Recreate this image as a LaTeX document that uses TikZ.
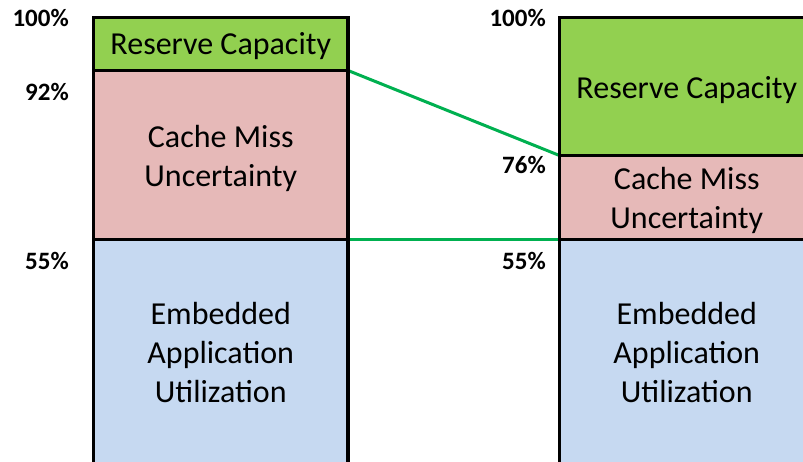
\documentclass[tikz,border=0pt]{standalone}
\usepackage{fontspec}
\setmainfont{Carlito}
\usetikzlibrary{backgrounds}
\definecolor{rescol}{HTML}{92D050}
\definecolor{misscol}{HTML}{E6B9B8}
\definecolor{appcol}{HTML}{C6D9F1}
\definecolor{linkcol}{HTML}{00B050}

\begin{document}
\begin{tikzpicture}[x=1pt,y=-1pt,
  seg/.style={draw=black, line width=3.5pt, anchor=north west, inner sep=0pt,
    outer sep=0pt, minimum width=254.5pt},
  segtext/.style={inner sep=0pt, align=center, font=\fontsize{32}{39}\selectfont},
  pct/.style={anchor=base east, inner sep=0pt, font=\fontsize{25}{28}\selectfont\bfseries},
  link/.style={draw=linkcol, line width=3pt}]
\useasboundingbox (0,0) rectangle (803,461);
\clip (0,0) rectangle (803,461);

% before: stacked utilisation bar (runs on below the page edge)
\node[seg, fill=rescol, minimum height=53pt] (lres) at (93.5,17.5) {};
\node[seg, fill=misscol, minimum height=169pt] (lmiss) at (lres.south west) {};
\node[seg, fill=appcol, minimum height=227pt] (lapp) at (lmiss.south west) {};
\node[segtext] (lres-t) at ([yshift=-2.5pt]lres.center) {Reserve Capacity};
\node[segtext] (lmiss-t) at ([yshift=-3pt]lmiss.center) {Cache Miss\\Uncertainty};
\node[segtext] (lapp-t) at (lapp.center) {Embedded\\Application\\Utilization};

% after: stacked utilisation bar
\node[seg, fill=rescol, minimum height=138pt] (rres) at (559.5,17.5) {};
\node[seg, fill=misscol, minimum height=84pt] (rmiss) at (rres.south west) {};
\node[seg, fill=appcol, minimum height=227pt] (rapp) at (rmiss.south west) {};
\node[segtext] (rres-t) at ([yshift=-3.5pt]rres.center) {Reserve Capacity};
\node[segtext] (rmiss-t) at ([yshift=-3pt]rmiss.center) {Cache Miss\\Uncertainty};
\node[segtext] (rapp-t) at (rapp.center) {Embedded\\Application\\Utilization};

% percentage marks
\node[pct] (pl100) at (69,26) {100\%};
\node[pct] (pl92) at (69,100) {92\%};
\node[pct] (pl55) at (69,269) {55\%};
\node[pct] (pr100) at (546,26) {100\%};
\node[pct] (pr76) at (546,173) {76\%};
\node[pct] (pr55) at (546,269) {55\%};

% boundaries carried across
\begin{scope}[on background layer]
\draw[link] (lres.south east) -- (rmiss.north west);
\draw[link] (lmiss.south east) -- (rapp.north west);
\end{scope}
\end{tikzpicture}
\end{document}
